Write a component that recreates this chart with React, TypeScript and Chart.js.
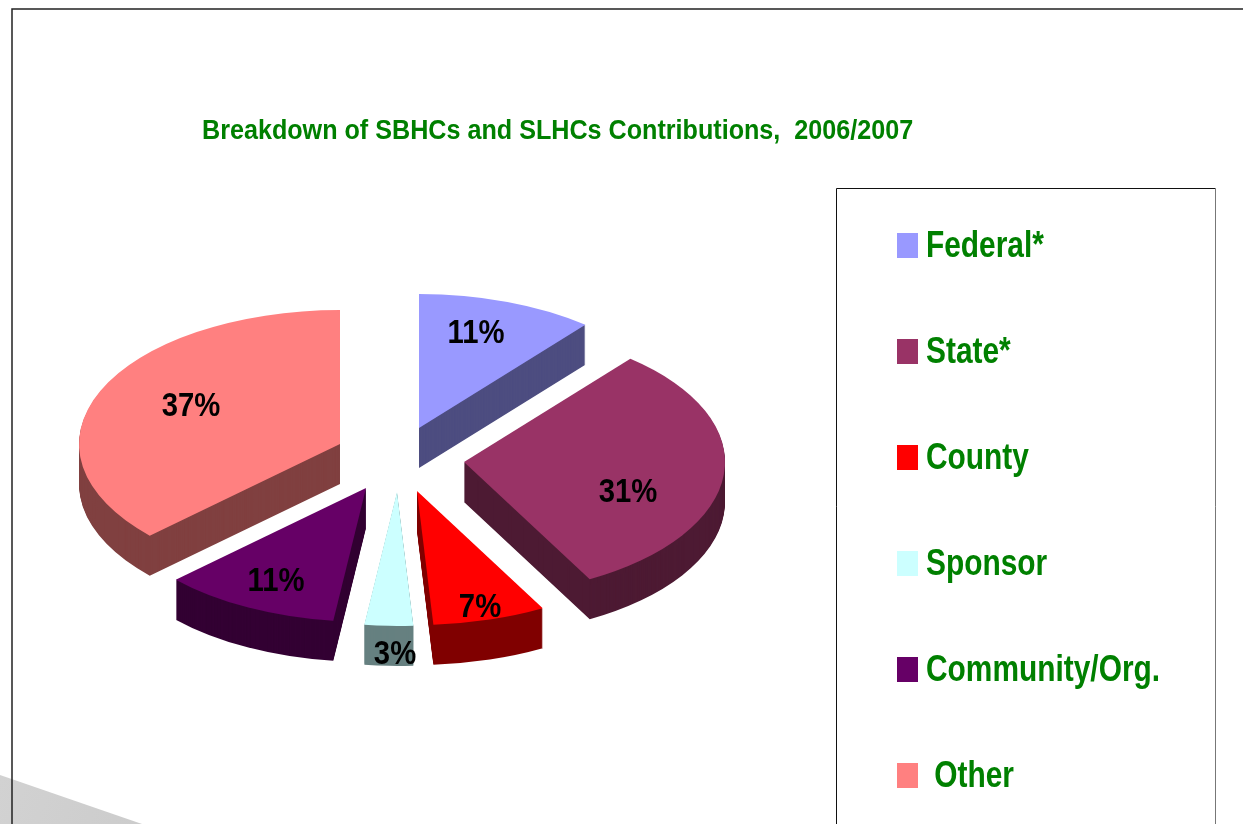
import React, { useEffect, useRef } from "react";
import { Chart, registerables } from "chart.js";

Chart.register(...registerables);

const categories = ["Federal*", "State*", "County", "Sponsor", "Community/Org.", " Other"];
const shares = [11, 31, 7, 3, 11, 37];
const topColors = ["#9999FF", "#993366", "#FF0000", "#CCFFFF", "#660066", "#FF8080"];
const sideColors = ["#4D4D80", "#4D1A33", "#800000", "#668080", "#330033", "#804040"];
const chartTitle = "Breakdown of SBHCs and SLHCs Contributions,  2006/2007";

const FONT = '"Liberation Sans", Arial, sans-serif';
const GREEN = "#008000";
const WIDTH = 1243;
const HEIGHT = 824;
const PIE = { x: 380, y: 455, radius: 261, squash: 0.513, depth: 40 };
const explodeX = [39, 84, 37, 17, -14, -40];
const explodeY = [-27, 7, 36, 37, 33, -11];
const labelDX = [57, 164, 63, -2, -90, -149];
const labelDY = [-96, 29, 115, 161, 92, -39];
const drawOrder = [5, 0, 1, 4, 3, 2];

function paintSlice(ctx: any, arc: any, i: number, dy: number, color: string) {
  const saved = arc.options;
  arc.options = {
    offset: 0,
    spacing: 0,
    borderWidth: 0,
    borderRadius: 0,
    borderAlign: "center",
    borderColor: color,
    backgroundColor: color,
    circular: true,
    selfJoin: false,
  };
  ctx.save();
  ctx.translate(PIE.x + explodeX[i], PIE.y + explodeY[i] + dy);
  ctx.scale(1, PIE.squash);
  ctx.translate(-arc.x, -arc.y);
  arc.draw(ctx);
  ctx.restore();
  arc.options = saved;
}

function narrowText(ctx: any, text: string, x: number, y: number, stretch: number, align: string) {
  ctx.save();
  ctx.translate(x, y);
  ctx.scale(stretch, 1);
  ctx.textAlign = align;
  ctx.textBaseline = "middle";
  ctx.fillText(text, 0, 0);
  ctx.restore();
}

const slidePlugin = {
  id: "slide",
  beforeDraw(chart: any) {
    const ctx = chart.ctx;
    ctx.save();
    ctx.fillStyle = "#FFFFFF";
    ctx.fillRect(0, 0, WIDTH, HEIGHT);
    const grad = ctx.createLinearGradient(0, 775, 140, 824);
    grad.addColorStop(0, "#D2D2D2");
    grad.addColorStop(1, "#CCCCCC");
    ctx.fillStyle = grad;
    ctx.beginPath();
    ctx.moveTo(0, 775);
    ctx.lineTo(142, 824);
    ctx.lineTo(0, 824);
    ctx.closePath();
    ctx.fill();
    ctx.strokeStyle = "#222222";
    ctx.lineWidth = 1.5;
    ctx.beginPath();
    ctx.moveTo(12, HEIGHT);
    ctx.lineTo(12, 9);
    ctx.lineTo(WIDTH, 9);
    ctx.stroke();
    ctx.lineWidth = 1;
    ctx.strokeStyle = "#111111";
    ctx.beginPath();
    ctx.moveTo(836.5, HEIGHT);
    ctx.lineTo(836.5, 188.5);
    ctx.lineTo(1215.5, 188.5);
    ctx.stroke();
    ctx.strokeStyle = "#777777";
    ctx.beginPath();
    ctx.moveTo(1215.5, 188.5);
    ctx.lineTo(1215.5, HEIGHT);
    ctx.stroke();
    ctx.restore();
  },
  beforeDatasetsDraw(chart: any) {
    const ctx = chart.ctx;
    const arcs = chart.getDatasetMeta(0).data;
    for (const i of drawOrder) {
      for (let dy = PIE.depth; dy > 0; dy--) {
        paintSlice(ctx, arcs[i], i, dy, sideColors[i]);
      }
    }
    for (const i of drawOrder) {
      paintSlice(ctx, arcs[i], i, 0, topColors[i]);
    }
    return false;
  },
  afterDraw(chart: any) {
    const ctx = chart.ctx;
    ctx.save();
    ctx.fillStyle = GREEN;
    ctx.font = `bold 28px ${FONT}`;
    narrowText(ctx, chartTitle, 202, 131, 0.898, "left");
    ctx.fillStyle = "#000000";
    ctx.font = `bold 34px ${FONT}`;
    shares.forEach((v, i) => {
      narrowText(
        ctx,
        `${v}%`,
        PIE.x + explodeX[i] + labelDX[i],
        PIE.y + explodeY[i] + labelDY[i] + 2,
        0.86,
        "center"
      );
    });
    ctx.font = `bold 36px ${FONT}`;
    categories.forEach((name, i) => {
      const y = 245.5 + i * 106;
      ctx.fillStyle = topColors[i];
      ctx.fillRect(897, y - 12.5, 21, 25);
      ctx.fillStyle = GREEN;
      narrowText(ctx, name, 926, y + 1.5, 0.83, "left");
    });
    ctx.restore();
  },
};

export default function App() {
  const ref = useRef<HTMLCanvasElement | null>(null);
  useEffect(() => {
    if (!ref.current) return;
    const chart = new Chart(ref.current, {
      type: "pie",
      data: {
        labels: categories,
        datasets: [
          {
            data: shares,
            backgroundColor: topColors,
            borderWidth: 0,
            radius: PIE.radius,
          } as any,
        ],
      },
      options: {
        animation: false,
        responsive: false,
        events: [],
        plugins: {
          legend: { display: false },
          tooltip: { enabled: false },
          title: { display: false },
        },
      },
      plugins: [slidePlugin as any],
    });
    return () => chart.destroy();
  }, []);
  return (
    <canvas
      ref={ref}
      width={WIDTH}
      height={HEIGHT}
      style={{ position: "absolute", left: 0, top: 0, width: WIDTH, height: HEIGHT, display: "block" }}
    />
  );
}
